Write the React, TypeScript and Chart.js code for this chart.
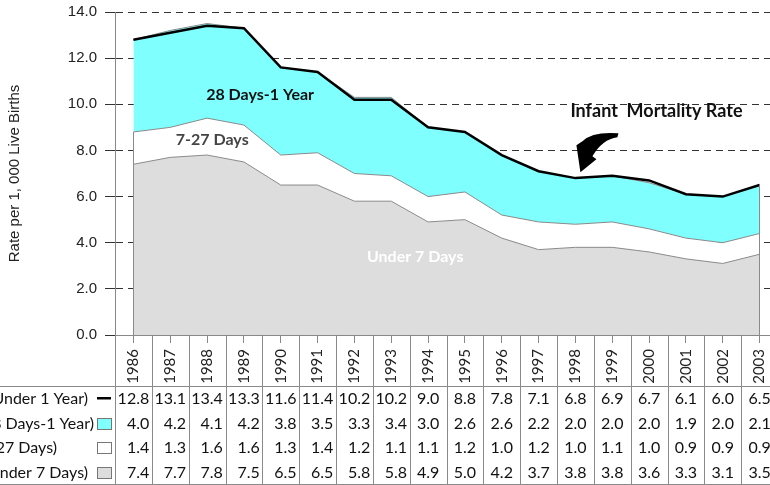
import React, { useEffect, useRef } from "react";
import { Chart, registerables } from "chart.js";

Chart.register(...registerables);

const years = ["1986", "1987", "1988", "1989", "1990", "1991", "1992", "1993", "1994", "1995", "1996", "1997", "1998", "1999", "2000", "2001", "2002", "2003"];
const infantTotal = [12.8, 13.1, 13.4, 13.3, 11.6, 11.4, 10.2, 10.2, 9.0, 8.8, 7.8, 7.1, 6.8, 6.9, 6.7, 6.1, 6.0, 6.5];
const postneonatal = [4.0, 4.2, 4.1, 4.2, 3.8, 3.5, 3.3, 3.4, 3.0, 2.6, 2.6, 2.2, 2.0, 2.0, 2.0, 1.9, 2.0, 2.1];
const lateNeonatal = [1.4, 1.3, 1.6, 1.6, 1.3, 1.4, 1.2, 1.1, 1.1, 1.2, 1.0, 1.2, 1.0, 1.1, 1.0, 0.9, 0.9, 0.9];
const earlyNeonatal = [7.4, 7.7, 7.8, 7.5, 6.5, 6.5, 5.8, 5.8, 4.9, 5.0, 4.2, 3.7, 3.8, 3.8, 3.6, 3.3, 3.1, 3.5];
const yMin = 0;
const yMax = 14;
const yStep = 2;
const rowLabels = [
  "Infant (Under 1 Year)",
  "Postneonatal (28 Days-1 Year)",
  "Late Neonatal (7-27 Days)",
  "Early Neonatal (Under 7 Days)",
];

const CYAN = "#80ffff";
const GRAY = "#dddddd";
const EDGE = "#8a8a8a";
const TABLE_FONT = "Lato, 'Open Sans', sans-serif";
const AXIS_FONT = "'Liberation Sans', Arial, sans-serif";

const cum1 = earlyNeonatal.map((v) => v);
const cum2 = earlyNeonatal.map((v, i) => Math.round((v + lateNeonatal[i]) * 10) / 10);
const cum3 = cum2.map((v, i) => Math.round((v + postneonatal[i]) * 10) / 10);

const tablePlugin = {
  id: "tableAndNotes",
  afterDraw(chart: any) {
    const { ctx, chartArea, scales } = chart;
    const ys = scales.y;
    const xs = scales.x;
    const n = years.length;
    const colW = (chartArea.right - chartArea.left) / n;
    const W = chart.width;
    const H = chart.height;
    ctx.save();

    // vertical edges of the stacked areas
    ctx.strokeStyle = EDGE;
    ctx.lineWidth = 1;
    const x0 = xs.getPixelForValue(0);
    const xN = xs.getPixelForValue(n - 1);
    ctx.beginPath();
    ctx.moveTo(Math.round(x0) + 0.5, ys.getPixelForValue(cum2[0]));
    ctx.lineTo(Math.round(x0) + 0.5, ys.getPixelForValue(0));
    ctx.moveTo(Math.round(xN) - 0.5, ys.getPixelForValue(cum3[n - 1]));
    ctx.lineTo(Math.round(xN) - 0.5, ys.getPixelForValue(0));
    ctx.stroke();

    // table grid
    const tableTop = 386;
    const tableBottom = 484;
    const rowH = (tableBottom - tableTop) / 4;
    ctx.strokeStyle = "#8a8a8a";
    ctx.beginPath();
    ctx.moveTo(0, tableTop + 0.5);
    ctx.lineTo(W, tableTop + 0.5);
    ctx.moveTo(0, tableBottom + 0.5);
    ctx.lineTo(W, tableBottom + 0.5);
    for (let k = 0; k <= n; k++) {
      const xx = Math.round(chartArea.left + k * colW) + 0.5;
      ctx.moveTo(xx, chartArea.bottom);
      ctx.lineTo(xx, H);
    }
    ctx.stroke();

    // table values
    const rows = [infantTotal, postneonatal, lateNeonatal, earlyNeonatal];
    ctx.font = `16px ${TABLE_FONT}`;
    ctx.fillStyle = "#111";
    ctx.textBaseline = "middle";
    ctx.textAlign = "right";
    for (let i = 0; i < n; i++) {
      const cx = chartArea.left + (i + 0.5) * colW;
      const strs = rows.map((r) => r[i].toFixed(1));
      const maxW = Math.max(...strs.map((s) => ctx.measureText(s).width));
      strs.forEach((s, r) => {
        ctx.fillText(s, cx + maxW / 2, tableTop + (r + 0.5) * rowH + 1);
      });
    }

    // legend labels & symbols
    const labelEnds = [88, 94, 57, 88];
    rowLabels.forEach((lab, r) => {
      ctx.fillText(lab, labelEnds[r], tableTop + (r + 0.5) * rowH + 1);
    });
    const sx = 97;
    const sw = 14;
    const cy = (r: number) => tableTop + (r + 0.5) * rowH;
    ctx.strokeStyle = "#000";
    ctx.lineWidth = 2.5;
    ctx.beginPath();
    ctx.moveTo(sx, cy(0));
    ctx.lineTo(sx + sw, cy(0));
    ctx.stroke();
    const boxes = [CYAN, "#ffffff", GRAY];
    boxes.forEach((c, j) => {
      const r = j + 1;
      ctx.fillStyle = c;
      ctx.fillRect(sx + 0.5, Math.round(cy(r) - 5) + 0.5, sw, 11);
      ctx.strokeStyle = "#777";
      ctx.lineWidth = 1;
      ctx.strokeRect(sx + 0.5, Math.round(cy(r) - 5) + 0.5, sw, 11);
    });

    // annotations inside plot
    const px = (i: number) => chartArea.left + (i + 0.5) * colW;
    ctx.textAlign = "center";
    ctx.textBaseline = "middle";
    ctx.font = `bold 16px ${TABLE_FONT}`;
    ctx.fillStyle = "#111";
    ctx.fillText("28 Days-1 Year", px(3.44), ys.getPixelForValue(10.4));
    ctx.fillStyle = "#444";
    ctx.fillText("7-27 Days", px(2.14), ys.getPixelForValue(8.45));
    ctx.fillStyle = "#ffffff";
    ctx.fillText("Under 7 Days", px(7.65), ys.getPixelForValue(3.38));
    ctx.fillStyle = "#111";
    ctx.font = `bold 18px ${TABLE_FONT}`;
    ctx.fillText("Infant  Mortality Rate", px(14.2), ys.getPixelForValue(9.68));

    // curved arrow pointing at 1998
    const tx = px(12) + 5;
    const ty = ys.getPixelForValue(7.05);
    ctx.fillStyle = "#000";
    ctx.beginPath();
    ctx.moveTo(tx, ty);
    ctx.lineTo(tx - 4, ty - 27);
    ctx.lineTo(tx + 2, ty - 31);
    ctx.quadraticCurveTo(tx + 12, ty - 41, tx + 38, ty - 39);
    ctx.lineTo(tx + 37, ty - 35);
    ctx.quadraticCurveTo(tx + 22, ty - 33, tx + 12, ty - 16);
    ctx.lineTo(tx + 16, ty - 13);
    ctx.closePath();
    ctx.fill();

    ctx.restore();
  },
};

export default function App() {
  const ref = useRef<HTMLCanvasElement>(null);
  useEffect(() => {
    const canvas = ref.current;
    if (!canvas) return;
    const chart = new Chart(canvas, {
      type: "line",
      data: {
        labels: years,
        datasets: [
          {
            label: "Infant (Under 1 Year)",
            data: infantTotal,
            borderColor: "#000",
            borderWidth: 2.5,
            pointRadius: 0,
            fill: false,
            tension: 0,
          },
          {
            label: "Postneonatal (28 Days-1 Year)",
            data: cum3,
            borderColor: EDGE,
            borderWidth: 1,
            backgroundColor: CYAN,
            pointRadius: 0,
            fill: "+1",
            tension: 0,
          },
          {
            label: "Late Neonatal (7-27 Days)",
            data: cum2,
            borderColor: EDGE,
            borderWidth: 1,
            backgroundColor: "#ffffff",
            pointRadius: 0,
            fill: "+1",
            tension: 0,
          },
          {
            label: "Early Neonatal (Under 7 Days)",
            data: cum1,
            borderColor: EDGE,
            borderWidth: 1,
            backgroundColor: GRAY,
            pointRadius: 0,
            fill: "origin",
            tension: 0,
          },
        ],
      },
      options: {
        responsive: false,
        animation: false,
        devicePixelRatio: 1,
        layout: { padding: { top: 12, right: 22, left: 0, bottom: 0 } },
        plugins: {
          legend: { display: false },
          tooltip: { enabled: false },
          filler: { drawTime: "beforeDatasetsDraw" },
        } as any,
        scales: {
          x: {
            type: "category",
            offset: true,
            grid: {
              display: true,
              drawOnChartArea: false,
              drawTicks: true,
              tickLength: 8,
              tickColor: "#888",
              color: "#888",
              offset: false,
            },
            border: { display: true, color: "#888" },
            ticks: {
              autoSkip: false,
              minRotation: 90,
              maxRotation: 90,
              padding: 6,
              color: "#222",
              font: { family: TABLE_FONT, size: 15 },
            },
            afterFit: (scale: any) => {
              scale.height = 150;
              scale.paddingLeft = 0;
              scale.paddingRight = 0;
            },
          },
          y: {
            min: yMin,
            max: yMax,
            grid: {
              color: "#333",
              tickColor: "#333",
              tickLength: 10,
              tickBorderDash: [],
            },
            border: { display: true, color: "#888", dash: [7, 5] },
            ticks: {
              stepSize: yStep,
              padding: 8,
              color: "#222",
              font: { family: AXIS_FONT, size: 15 },
              callback: (v: any) => Number(v).toFixed(1),
            },
            title: {
              display: true,
              text: "Rate per 1, 000 Live Births",
              color: "#222",
              font: { family: AXIS_FONT, size: 15 },
              padding: { top: 6, bottom: 0 },
            },
            afterFit: (scale: any) => {
              scale.width = 115;
              scale.paddingTop = 0;
              scale.paddingBottom = 0;
            },
          },
        },
      } as any,
      plugins: [tablePlugin],
    });
    return () => chart.destroy();
  }, []);

  return (
    <div
      style={{
        position: "fixed",
        left: 0,
        top: 0,
        width: 770,
        height: 485,
        overflow: "hidden",
        background: "#fff",
      }}
    >
      <canvas ref={ref} width={800} height={485} style={{ display: "block", width: 800, height: 485 }} />
    </div>
  );
}
